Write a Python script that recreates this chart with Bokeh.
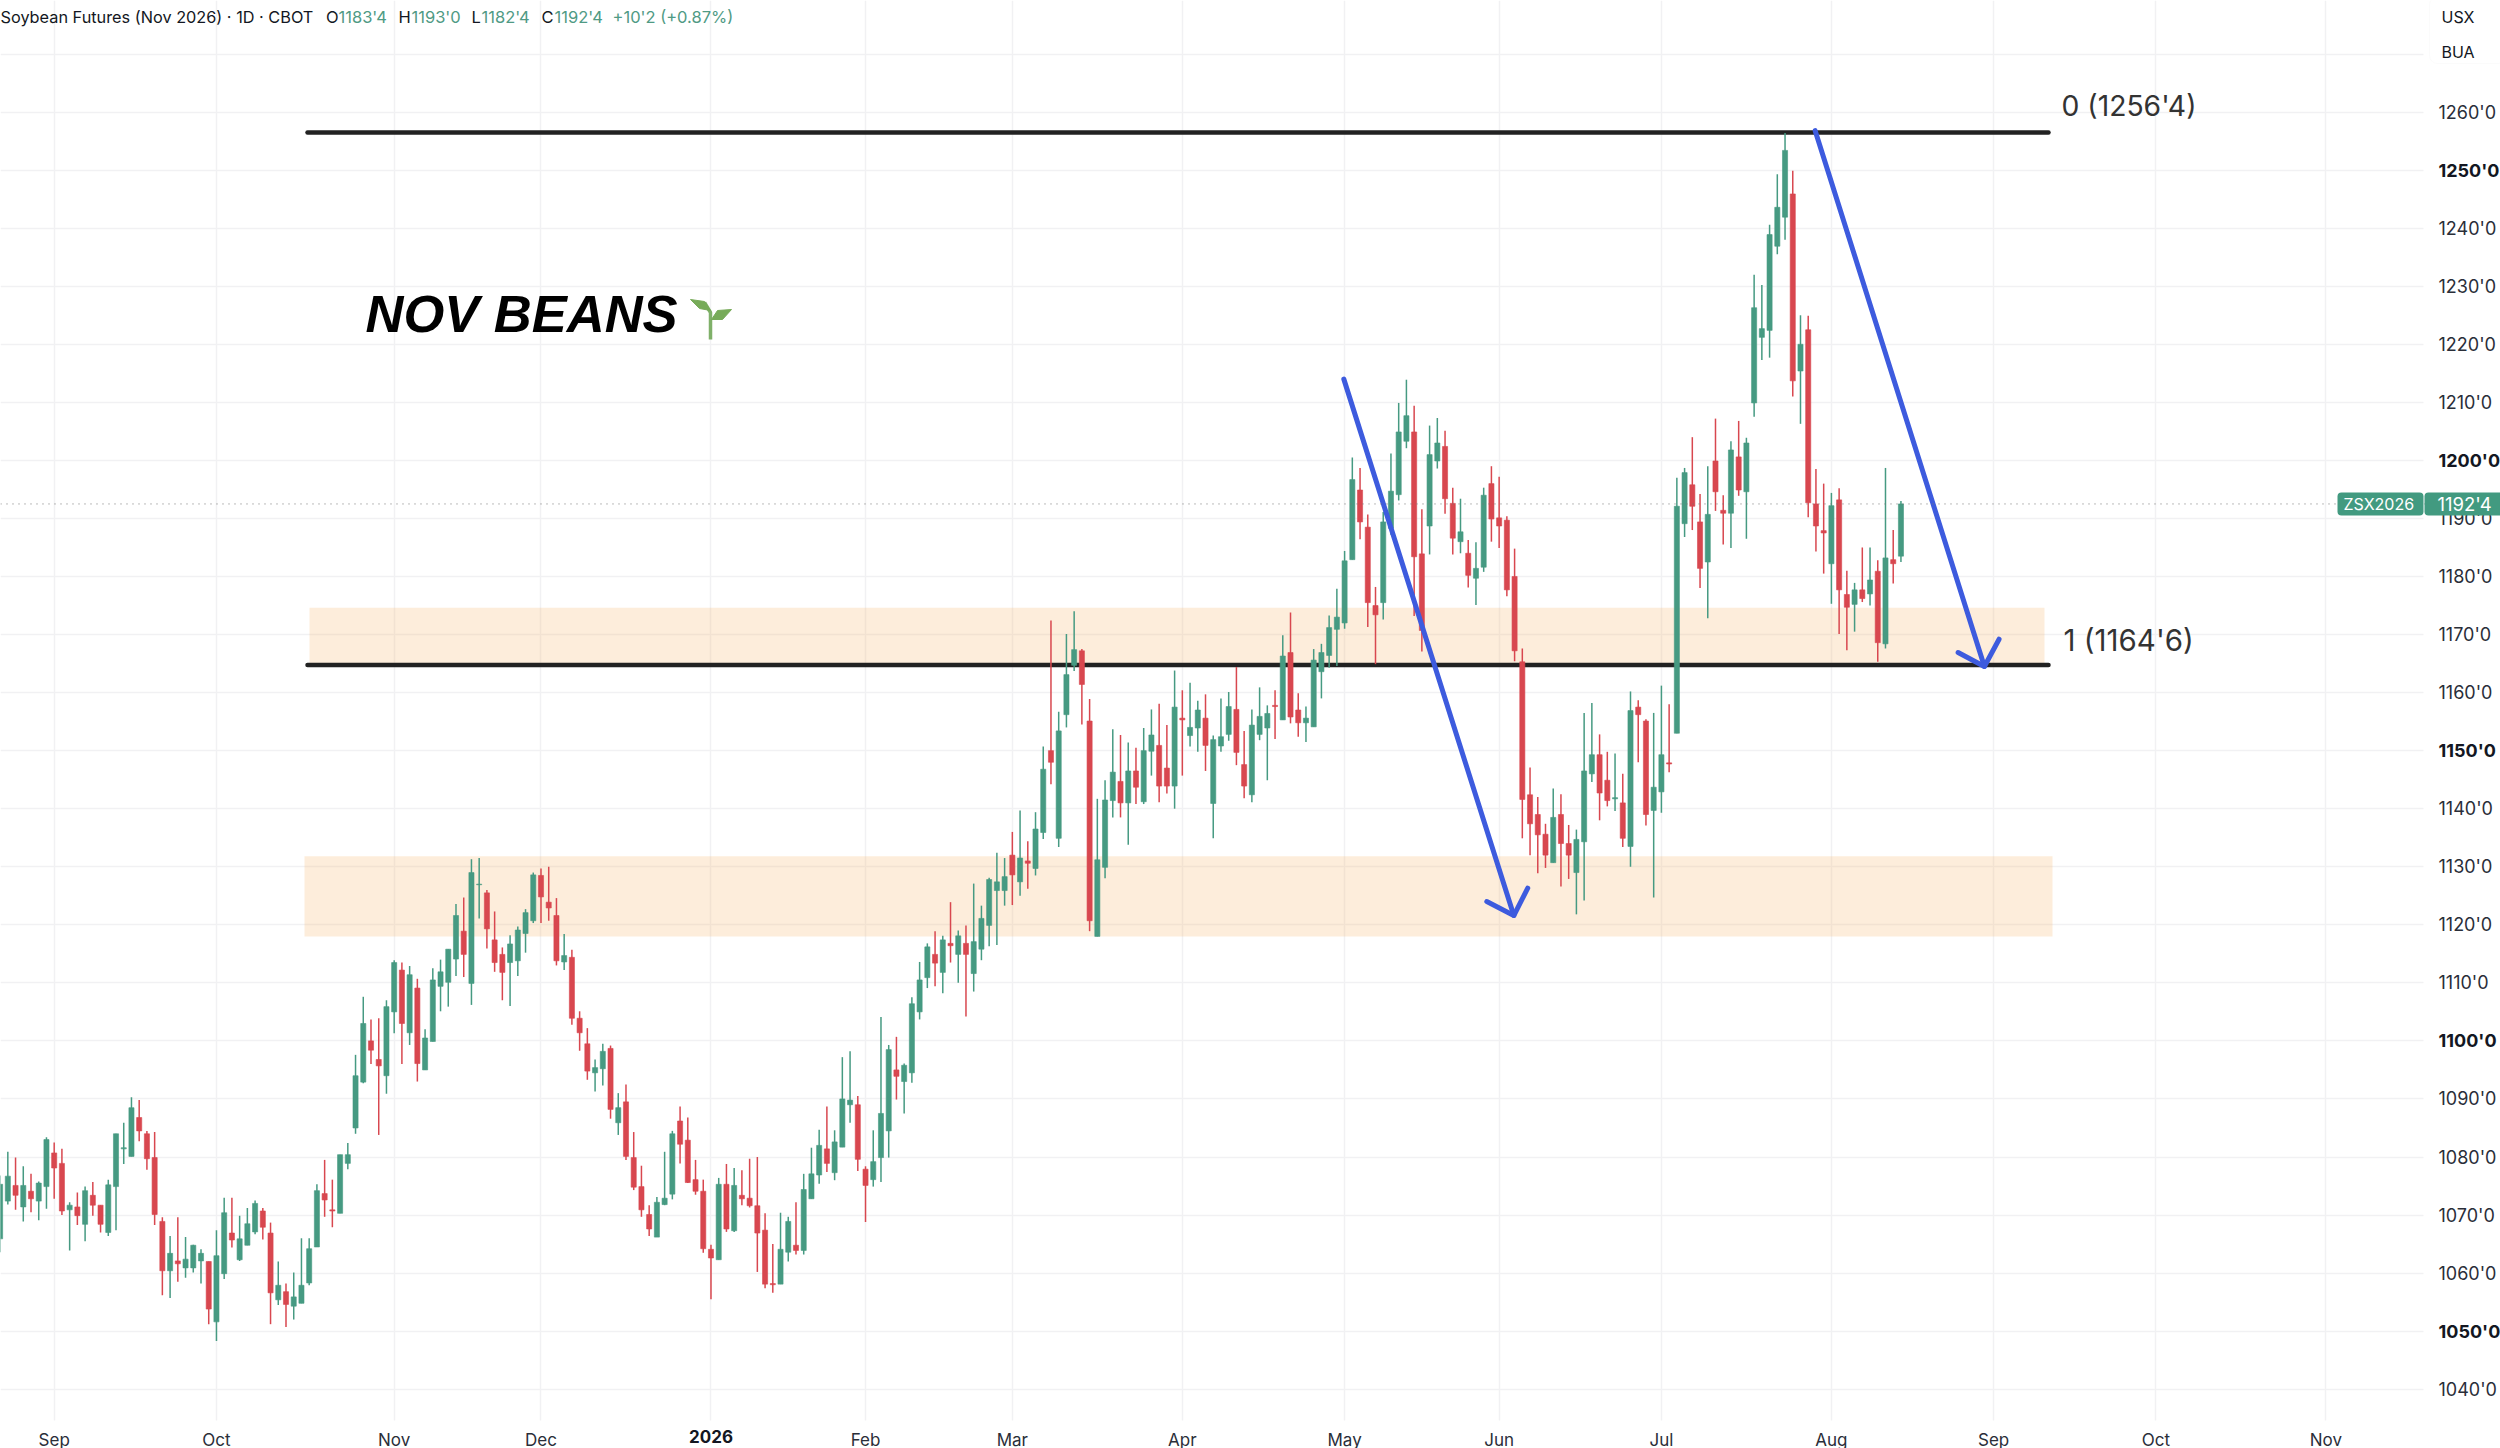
from bokeh.plotting import figure
from bokeh.embed import file_html
from bokeh.resources import INLINE
from bokeh.models import Range1d, FixedTicker, Label, BoxAnnotation, Span, ColumnDataSource, LinearAxis

open_ = [1065.9,1072.4,1075.1,1071.4,1074.1,1072.4,1074.9,1080.7,1078.9,1070.9,
1071.4,1068.4,1073.4,1071.7,1067.0,1074.9,1081.4,1080.1,1086.8,1084.0,
1079.9,1068.9,1060.4,1062.1,1060.9,1060.9,1062.1,1062.0,1051.6,1059.9,
1066.9,1062.3,1064.8,1067.1,1070.7,1066.9,1055.4,1056.8,1054.3,1054.8,
1058.3,1064.5,1073.7,1070.9,1070.3,1078.9,1085.0,1092.9,1100.0,1096.8,
1094.0,1105.0,1112.2,1101.4,1109.1,1095.0,1099.9,1109.4,1110.1,1114.1,
1118.9,1109.9,1126.9,1125.5,1117.4,1114.9,1113.5,1113.8,1118.5,1120.7,
1128.5,1123.9,1121.6,1113.6,1114.4,1103.9,1099.5,1094.5,1095.2,1098.7,
1085.9,1089.5,1079.9,1074.9,1070.1,1066.2,1071.8,1073.6,1086.2,1082.9,
1076.1,1074.1,1064.1,1062.3,1075.3,1067.3,1073.4,1072.9,1071.6,1067.4,
1058.2,1058.1,1063.6,1064.8,1063.9,1072.8,1076.9,1081.4,1077.3,1081.7,
1089.0,1089.0,1077.9,1076.1,1079.9,1084.5,1095.0,1093.0,1094.5,1105.0,
1110.9,1114.9,1111.8,1116.8,1114.9,1116.8,1111.6,1115.8,1119.9,1125.9,
1125.9,1132.0,1127.4,1131.0,1129.7,1135.9,1150.0,1134.9,1156.2,1164.7,
1167.2,1155.1,1118.0,1129.9,1141.4,1144.7,1141.0,1146.5,1141.2,1149.9,
1150.9,1147.0,1143.9,1155.6,1152.6,1153.9,1155.6,1140.9,1150.8,1152.8,
1157.1,1147.6,1142.4,1152.8,1153.9,1157.8,1155.3,1166.9,1157.0,1154.8,
1154.1,1163.6,1166.4,1170.9,1172.0,1182.9,1194.9,1188.5,1175.0,1175.5,
1188.3,1194.1,1203.3,1204.9,1183.9,1188.7,1199.9,1202.4,1192.6,1186.0,
1184.0,1179.7,1181.6,1196.0,1190.1,1189.7,1180.0,1165.3,1142.4,1139.0,
1135.6,1130.7,1139.0,1134.0,1129.0,1134.3,1146.0,1149.3,1144.9,1141.7,
1141.0,1133.5,1157.5,1155.1,1139.7,1142.9,1147.9,1153.0,1189.1,1195.8,
1189.4,1182.5,1199.9,1191.4,1190.9,1200.6,1194.6,1209.9,1221.2,1222.4,
1236.9,1241.9,1245.9,1215.4,1222.5,1192.5,1187.9,1182.2,1193.2,1176.9,
1175.2,1177.7,1177.0,1180.9,1168.4,1182.9,1183.5]
high = [1076.8,1080.9,1079.9,1078.4,1077.1,1075.8,1083.4,1082.5,1081.4,1072.2,
1073.9,1074.9,1075.7,1071.7,1076.1,1084.0,1085.9,1090.3,1089.8,1084.5,
1084.3,1069.6,1066.4,1069.6,1066.2,1064.9,1064.1,1062.0,1067.4,1073.0,
1073.0,1069.9,1071.2,1072.5,1071.2,1068.7,1062.0,1058.2,1060.1,1066.0,
1066.0,1075.3,1079.5,1076.1,1080.4,1082.4,1097.6,1107.6,1103.7,1103.9,
1107.0,1113.9,1113.5,1112.9,1110.7,1102.0,1112.5,1114.0,1115.8,1123.6,
1124.7,1131.3,1131.5,1126.0,1122.3,1116.1,1118.2,1119.7,1122.7,1129.0,
1129.7,1130.0,1124.6,1118.4,1115.7,1105.1,1102.2,1096.8,1099.5,1099.2,
1091.0,1092.5,1084.3,1078.5,1071.7,1073.1,1080.9,1084.5,1088.7,1086.8,
1079.5,1076.1,1064.9,1076.4,1078.8,1078.1,1077.7,1079.7,1080.0,1070.3,
1065.0,1070.4,1069.7,1072.2,1077.1,1081.6,1084.7,1088.7,1084.6,1097.2,
1098.2,1090.5,1078.4,1084.6,1104.1,1099.3,1100.7,1096.1,1107.5,1113.6,
1116.8,1118.9,1118.1,1123.9,1119.0,1119.9,1127.1,1123.3,1128.1,1132.4,
1131.5,1136.0,1139.7,1134.4,1139.4,1150.7,1172.4,1156.7,1170.1,1174.0,
1167.5,1158.9,1141.7,1144.9,1153.7,1152.7,1151.4,1150.5,1153.9,1157.1,
1158.1,1154.4,1163.8,1160.4,1161.7,1158.6,1159.7,1152.6,1159.0,1160.1,
1164.4,1153.4,1157.1,1160.9,1157.8,1160.4,1169.9,1173.8,1159.9,1157.6,
1167.5,1168.4,1173.3,1177.9,1184.4,1200.5,1198.7,1190.7,1178.2,1191.1,
1201.2,1209.9,1213.9,1209.4,1191.6,1206.0,1207.3,1205.1,1195.3,1193.4,
1186.3,1185.9,1195.3,1199.0,1197.2,1190.4,1184.8,1167.6,1147.1,1142.0,
1137.4,1143.5,1142.5,1137.2,1136.4,1156.5,1158.2,1152.8,1149.8,1149.5,
1146.0,1160.2,1158.7,1155.4,1156.5,1161.2,1158.0,1197.0,1198.7,1204.0,
1194.2,1199.0,1207.2,1194.0,1203.3,1206.8,1203.9,1232.0,1230.2,1240.6,
1249.3,1256.4,1249.9,1225.0,1224.9,1198.5,1196.0,1194.4,1195.2,1181.0,
1178.9,1185.0,1185.0,1182.8,1198.7,1188.0,1193.0]
low = [1063.6,1071.8,1070.9,1068.9,1070.5,1069.1,1071.1,1072.8,1070.0,1063.9,
1068.3,1065.5,1069.9,1067.0,1066.4,1067.4,1078.8,1080.1,1082.7,1077.8,
1068.3,1056.2,1055.7,1058.5,1059.2,1060.1,1058.2,1051.2,1048.3,1059.0,
1064.4,1062.1,1064.8,1066.7,1065.8,1051.2,1054.5,1050.7,1052.0,1054.8,
1057.9,1064.5,1069.7,1067.9,1070.3,1077.9,1084.0,1092.7,1096.0,1083.8,
1090.9,1101.3,1096.0,1099.3,1093.0,1095.0,1099.9,1105.1,1105.9,1111.2,
1111.0,1106.2,1121.1,1115.9,1111.9,1107.0,1106.0,1111.2,1115.2,1120.3,
1120.3,1120.7,1113.0,1112.2,1102.8,1098.3,1093.3,1091.3,1092.3,1086.6,
1083.8,1079.5,1074.3,1069.7,1066.4,1066.2,1071.7,1072.7,1078.9,1075.5,
1073.5,1063.5,1055.5,1062.3,1067.1,1067.1,1071.7,1071.3,1060.2,1057.4,
1056.6,1058.1,1062.0,1063.2,1063.2,1072.8,1075.4,1077.4,1076.0,1081.7,
1085.9,1077.6,1068.8,1074.9,1075.7,1079.9,1089.9,1087.5,1092.8,1103.7,
1109.1,1109.4,1108.2,1113.5,1110.0,1104.2,1108.5,1113.9,1116.3,1116.5,
1123.3,1123.4,1125.0,1126.2,1128.5,1134.8,1144.2,1133.4,1154.0,1163.7,
1154.5,1118.9,1118.0,1128.0,1138.5,1138.5,1133.8,1140.8,1140.8,1145.7,
1141.1,1142.6,1140.0,1145.7,1150.7,1149.8,1146.5,1134.9,1149.8,1151.7,
1147.5,1141.8,1141.1,1151.8,1144.9,1152.0,1155.3,1154.7,1152.4,1151.5,
1154.1,1159.0,1164.3,1164.6,1171.0,1182.9,1186.4,1171.3,1164.9,1172.6,
1187.2,1193.1,1202.1,1173.2,1167.1,1183.8,1198.6,1190.8,1183.8,1184.0,
1178.1,1175.1,1180.8,1186.0,1184.9,1176.6,1165.4,1134.9,1132.0,1128.9,
1129.8,1130.7,1126.6,1127.9,1121.8,1124.2,1144.6,1138.0,1140.4,1139.6,
1133.4,1130.0,1148.0,1137.1,1124.7,1139.3,1146.3,1153.0,1186.8,1188.0,
1178.0,1172.8,1191.3,1185.5,1184.9,1193.9,1186.5,1207.5,1217.3,1217.7,
1235.5,1238.0,1211.0,1206.3,1190.2,1184.3,1180.5,1175.3,1170.1,1167.3,
1170.5,1175.6,1175.0,1165.3,1167.6,1178.8,1182.5]
close = [1075.3,1076.7,1073.4,1075.1,1072.8,1075.5,1083.0,1078.1,1070.7,1071.7,
1069.9,1074.2,1071.7,1068.4,1075.2,1084.0,1081.6,1088.5,1084.5,1079.7,
1070.1,1060.4,1063.4,1061.6,1062.4,1064.8,1063.4,1053.8,1063.0,1070.4,
1065.7,1065.9,1068.5,1072.0,1067.9,1056.6,1057.9,1054.6,1055.9,1057.9,
1064.2,1074.2,1072.6,1070.7,1080.4,1080.4,1094.0,1103.0,1098.4,1095.7,
1105.9,1113.5,1103.0,1111.4,1096.1,1100.5,1110.5,1111.9,1115.8,1121.6,
1114.9,1129.0,1127.0,1119.3,1113.5,1111.8,1116.7,1119.1,1122.1,1128.6,
1124.8,1122.9,1113.8,1114.7,1103.9,1101.4,1094.8,1095.4,1098.2,1088.2,
1088.5,1080.1,1074.8,1070.9,1067.6,1072.2,1072.9,1084.0,1082.2,1075.6,
1074.1,1064.2,1062.6,1075.3,1067.6,1075.1,1072.8,1071.6,1066.9,1058.1,
1058.0,1064.1,1068.9,1063.9,1074.4,1077.1,1082.0,1078.9,1082.6,1090.0,
1089.8,1079.6,1075.1,1079.2,1087.5,1098.5,1093.9,1095.8,1106.4,1110.5,
1116.2,1113.4,1117.4,1116.4,1118.1,1114.9,1117.1,1121.1,1127.8,1127.4,
1128.3,1128.6,1131.5,1130.6,1136.5,1146.8,1148.0,1153.4,1163.1,1167.4,
1161.4,1120.7,1131.2,1141.5,1146.3,1141.0,1146.5,1143.7,1150.0,1152.7,
1143.9,1143.9,1157.5,1155.3,1154.0,1157.0,1150.9,1151.9,1152.4,1157.6,
1149.7,1143.9,1154.4,1155.9,1156.4,1157.6,1166.3,1155.8,1154.8,1155.6,
1165.6,1166.9,1171.2,1173.0,1182.7,1196.7,1189.4,1175.5,1173.4,1189.4,
1194.7,1204.9,1207.7,1183.4,1170.7,1201.0,1203.0,1193.4,1186.6,1187.7,
1180.2,1181.4,1194.0,1189.9,1188.7,1177.7,1167.2,1141.6,1137.4,1135.5,
1132.0,1138.5,1134.0,1132.0,1134.7,1146.5,1149.3,1142.7,1141.4,1141.9,
1134.9,1156.9,1156.2,1139.0,1143.7,1149.3,1147.7,1192.1,1197.9,1192.1,
1181.4,1190.7,1194.6,1190.9,1201.8,1194.9,1203.0,1226.3,1222.7,1238.9,
1243.6,1253.4,1213.7,1220.0,1192.7,1188.7,1187.5,1192.2,1177.7,1174.7,
1177.7,1176.2,1179.4,1168.6,1183.2,1182.2,1192.5]

month_bars = [7, 28, 51, 70, 92, 112, 131, 153, 174, 194, 215, 237, 258, 279, 301]
month_labels = ["Sep", "Oct", "Nov", "Dec", "2026", "Feb", "Mar", "Apr", "May", "Jun", "Jul", "Aug", "Sep", "Oct", "Nov"]
price_ticks = [1040, 1050, 1060, 1070, 1080, 1090, 1100, 1110, 1120, 1130, 1140, 1150, 1160, 1170,
               1180, 1190, 1200, 1210, 1220, 1230, 1240, 1250, 1260, 1270]
bold_prices = [1050, 1100, 1150, 1200, 1250]

last_price = 1192.5
level_top = 1256.5
level_bottom = 1164.75
upper_zone = (1164.75, 1174.6)
lower_zone = (1118.0, 1131.8)

# drawn trend arrows: (bar index, price)
arrow_one = [(173.9, 1214.0), (195.9, 1121.6)]
arrow_one_barb = [(192.4, 1124.0), (195.9, 1121.6), (197.7, 1126.3)]
arrow_two = [(234.9, 1256.8), (256.8, 1164.5)]
arrow_two_barb = [(253.4, 1166.9), (256.8, 1164.5), (258.7, 1169.2)]

GREEN = "#469a82"
RED = "#d8474f"
TAG = "#429a80"
BLUE = "#3d5bde"
INK = "#131722"
GRID = "#f1f1f3"
FONT = "Inter"

# mapping from target-image pixels to the chart's own axes (for annotation placement)
BAR_PX = 7.727
PX_PER_UNIT = 5.805
def px(x):
    return (x + 0.4) / BAR_PX
def py(y):
    return 1260 - (y - 111.6) / PX_PER_UNIT

W, H = 2500, 1448
p = figure(width=W, height=H,
           x_range=Range1d(px(0), px(W)), y_range=Range1d(py(H), py(0)),
           x_axis_location=None, y_axis_location=None,
           tools="", toolbar_location=None, output_backend="svg",
           min_border_left=0, min_border_right=0, min_border_top=0, min_border_bottom=0,
           outline_line_color=None, background_fill_color="white", border_fill_color="white")

RIGHT_EDGE, BOTTOM_EDGE = px(2423), py(1420)

def style_axis(ax, size, bold=False):
    ax.axis_line_color = None
    ax.major_tick_line_color = None
    ax.minor_tick_line_color = None
    ax.major_label_text_font = FONT
    ax.major_label_text_color = INK if bold else "#2a2e39"
    ax.major_label_text_font_size = f"{size}px"
    ax.major_label_text_font_style = "bold" if bold else "normal"

y_ticker = FixedTicker(ticks=price_ticks)
x_ticker = FixedTicker(ticks=month_bars)

y_axis = LinearAxis(fixed_location=RIGHT_EDGE, ticker=y_ticker, major_label_standoff=9,
                    major_label_overrides={t: ("" if (t in bold_prices or t == 1270) else f"{t}'0") for t in price_ticks})
y_bold = LinearAxis(fixed_location=RIGHT_EDGE, ticker=FixedTicker(ticks=bold_prices), major_label_standoff=9,
                    major_label_overrides={t: f"{t}'0" for t in bold_prices})
x_axis = LinearAxis(fixed_location=BOTTOM_EDGE, ticker=x_ticker, major_label_standoff=3,
                    major_label_overrides={b: ("" if t == "2026" else t) for b, t in zip(month_bars, month_labels)})
jan = month_bars[month_labels.index("2026")]
x_bold = LinearAxis(fixed_location=BOTTOM_EDGE, ticker=FixedTicker(ticks=[jan]), major_label_standoff=3,
                    major_label_overrides={jan: "2026"})
style_axis(y_axis, 18)
style_axis(y_bold, 18, True)
style_axis(x_axis, 17)
style_axis(x_bold, 17, True)
p.add_layout(y_axis, "right")
p.add_layout(y_bold, "right")
p.add_layout(x_axis, "below")
p.add_layout(x_bold, "below")

p.xgrid.ticker = x_ticker
p.ygrid.ticker = y_ticker
p.xgrid.grid_line_color = GRID
p.ygrid.grid_line_color = GRID
p.xgrid.grid_line_width = 1.5
p.ygrid.grid_line_width = 1.5

# white strips: the grid stops at the axis areas
p.quad(left=RIGHT_EDGE, right=px(2510), bottom=py(1460), top=py(-10), fill_color="white", line_color=None)
p.quad(left=px(-10), right=px(2510), bottom=py(1460), top=BOTTOM_EDGE, fill_color="white", line_color=None)

# zones
p.quad(left=px(309), right=px(2044), bottom=upper_zone[0], top=upper_zone[1],
       fill_color="#f7b267", fill_alpha=0.24, line_color=None)
p.quad(left=px(304), right=px(2052), bottom=lower_zone[0], top=lower_zone[1],
       fill_color="#f7b267", fill_alpha=0.24, line_color=None)

# horizontal levels
for lv in (level_top, level_bottom):
    p.line([px(307), px(2048)], [lv, lv], line_color="#222222", line_width=4.5, line_cap="round")

# candles
bars = list(range(len(close)))
colors = [GREEN if c >= o else RED for o, c in zip(open_, close)]
src = ColumnDataSource(dict(x=bars, o=open_, h=high, l=low, c=close, color=colors,
                            top=[max(a, b) for a, b in zip(open_, close)],
                            bottom=[min(a, b) for a, b in zip(open_, close)]))
p.segment(x0="x", x1="x", y0="l", y1="h", line_color="color", line_width=1.5, source=src)
p.vbar(x="x", width=0.66, top="top", bottom="bottom", fill_color="color", line_color="color",
       line_width=0.6, source=src)

# arrows
for seg in (arrow_one, arrow_one_barb, arrow_two, arrow_two_barb):
    p.line([a for a, _ in seg], [b for _, b in seg], line_color=BLUE, line_width=5,
           line_cap="round", line_join="round")

# sprout decoration next to the heading
p.line([px(710), px(710), px(704)], [py(339), py(312), py(302)], line_color="#7fb069", line_width=3.5)
p.patch([px(x) for x in (690, 704, 710, 699)], [py(y) for y in (299, 301, 310, 308)],
        fill_color="#77ab59", line_color="#77ab59", line_width=1)
p.patch([px(x) for x in (731, 717, 711, 722)], [py(y) for y in (309, 310, 319, 319)],
        fill_color="#77ab59", line_color="#77ab59", line_width=1)

p.add_layout(Span(location=last_price, dimension="width", line_color="#777777",
                  line_dash="1 5", line_width=1))

def txt(x, y, text, size, color=INK, font=FONT, style="normal", align="left"):
    p.add_layout(Label(x=px(x), y=py(y), text=text, text_font=font, text_font_size=f"{size}px",
                       text_color=color, text_font_style=style, text_align=align,
                       text_baseline="middle"))

txt(365, 313, "NOV BEANS", 52.5, "#000000", "Liberation Sans", "bold italic")
txt(2061, 105, "0 (1256'4)", 28.3, "#333333")
txt(2063, 639, "1 (1164'6)", 29.5, "#333333")

# legend line
UP = "#4f9a84"
txt(0, 16, "Soybean Futures (Nov 2026) · 1D · CBOT", 16.3, INK)
for x, lab in ((325.5, "O"), (398, "H"), (471, "L"), (541, "C")):
    txt(x, 16, lab, 16.5, INK)
for x, lab in ((338, "1183'4"), (411, "1193'0"), (481, "1182'4"), (554, "1192'4"), (612, "+10'2 (+0.87%)")):
    txt(x, 16, lab, 16.5, UP)

# last-price tag
p.add_layout(BoxAnnotation(left=px(2337), right=px(2423), bottom=py(515), top=py(492),
                           fill_color=TAG, fill_alpha=1, line_color=None, border_radius=4))
p.add_layout(BoxAnnotation(left=px(2424), right=px(2506), bottom=py(515), top=py(492),
                           fill_color=TAG, fill_alpha=1, line_color=None, border_radius=4))
txt(2343, 503.5, "ZSX2026", 16, "#ffffff")
txt(2437, 503.5, "1192'4", 18.5, "#ffffff")

# currency / unit box
p.add_layout(BoxAnnotation(left=px(2429), right=px(2506), bottom=py(63), top=py(-4),
                           fill_color="#ffffff", fill_alpha=1, line_color="#f3f3f3", line_width=1, border_radius=8))
txt(2441, 16, "USX", 16, INK)
txt(2441, 51, "BUA", 16, INK)

open("out.html", "w").write(file_html(p, INLINE))
